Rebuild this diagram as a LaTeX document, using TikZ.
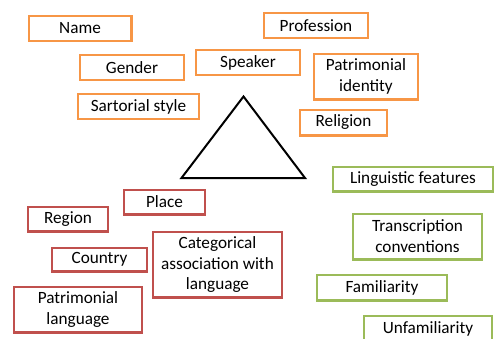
\documentclass[tikz,border=0pt]{standalone}
\usepackage{fontspec}
\setmainfont{Carlito}
\definecolor{boxorange}{HTML}{F79646}
\definecolor{boxred}{HTML}{C0504D}
\definecolor{boxgreen}{HTML}{9BBB59}
\begin{document}
\begin{tikzpicture}[x=1pt,y=-1pt,
  label box/.style={draw, line width=2.2pt, inner sep=0pt, align=center,
    font=\fontsize{17.2}{20.8}\selectfont, text=black},
  speakerbox/.style={label box, draw=boxorange},
  placebox/.style={label box, draw=boxred},
  langbox/.style={label box, draw=boxgreen},
  dims/.style n args={2}{minimum width=#1pt-2.2pt, minimum height=#2pt-2.2pt}]
\useasboundingbox (0,0) rectangle (497,338);
\clip (0,0) rectangle (497,338);
% speaker attributes
\node[speakerbox, dims={105}{27}] (name) at (80,28.5) {Name};
\node[speakerbox, dims={106}{27}] (gender) at (132,67.5) {Gender};
\node[speakerbox, dims={123}{27}] (sartorial) at (138.5,106.5) {Sartorial style};
\node[speakerbox, dims={106}{27}] (speaker) at (248,62.5) {Speaker};
\node[speakerbox, dims={106}{27}] (profession) at (316,25.5) {Profession};
\node[speakerbox, dims={106}{48}] (identity) at (366,76.5) {Patrimonial\\identity};
\node[speakerbox, dims={89}{28}] (religion) at (343.5,122.5) {Religion};
% central triangle
\draw[line width=2pt, line join=miter] (243.5,96.5) -- (305,178) -- (181.5,178) -- cycle;
% place attributes
\node[placebox, dims={83}{27}] (place) at (164.5,202) {Place};
\node[placebox, dims={82}{27}] (region) at (68,219) {Region};
\node[placebox, dims={97}{26}] (country) at (99.5,259.5) {Country};
\node[placebox, dims={131}{68}] (category) at (217.5,264.5) {Categorical\\association with\\language};
\node[placebox, dims={130}{48}] (patlang) at (78,309.5) {Patrimonial\\language};
% language attributes
\node[langbox, dims={162}{27}] (features) at (413,179) {Linguistic features};
\node[langbox, dims={131}{48}] (transcription) at (417.5,236.5) {Transcription\\conventions};
\node[langbox, dims={132}{28}] (familiarity) at (382,287.5) {Familiarity};
\node[langbox, dims={130}{27}] (unfamiliarity) at (428,328.5) {Unfamiliarity};
\end{tikzpicture}
\end{document}
